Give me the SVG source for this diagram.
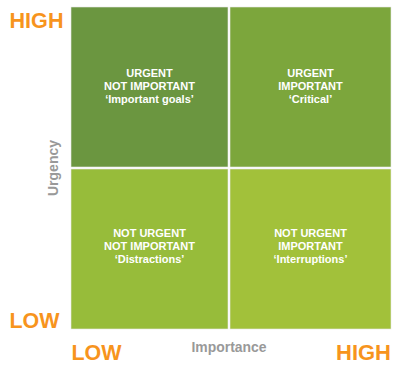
<svg xmlns="http://www.w3.org/2000/svg" width="400" height="369" viewBox="0 0 400 369">
<style>
.axis{font-family:"Liberation Sans",Arial,sans-serif;font-weight:bold;fill:#f7941d;font-size:22px}
.lbl{font-family:"Liberation Sans",Arial,sans-serif;font-weight:bold;fill:#999999;font-size:14px}
.q{font-family:"Liberation Sans",Arial,sans-serif;font-weight:bold;fill:#ffffff;font-size:11px;text-anchor:middle}
.cell{stroke:#e6e6e6;stroke-width:0.6}
</style>
<rect width="400" height="369" fill="#ffffff"/>
<g id="q-urgent-not-important">
<rect class="cell" x="71" y="7" width="157" height="160" fill="#6b9640"/>
<text class="q" x="149.5" y="77">URGENT</text>
<text class="q" x="149.5" y="90">NOT IMPORTANT</text>
<text class="q" x="149.5" y="103">‘Important goals’</text>
</g>
<g id="q-urgent-important">
<rect class="cell" x="230" y="7" width="161" height="160" fill="#7ca63c"/>
<text class="q" x="310.5" y="77">URGENT</text>
<text class="q" x="310.5" y="90">IMPORTANT</text>
<text class="q" x="310.5" y="103">‘Critical’</text>
</g>
<g id="q-not-urgent-not-important">
<rect class="cell" x="71" y="169" width="157" height="160" fill="#97bc3a"/>
<text class="q" x="149.5" y="237">NOT URGENT</text>
<text class="q" x="149.5" y="250">NOT IMPORTANT</text>
<text class="q" x="149.5" y="263">‘Distractions’</text>
</g>
<g id="q-not-urgent-important">
<rect class="cell" x="230" y="169" width="161" height="160" fill="#a2c13a"/>
<text class="q" x="310.5" y="237">NOT URGENT</text>
<text class="q" x="310.5" y="250">IMPORTANT</text>
<text class="q" x="310.5" y="263">‘Interruptions’</text>
</g>
<g id="axes">
<text class="axis" x="9.5" y="28" textLength="54" lengthAdjust="spacingAndGlyphs">HIGH</text>
<text class="axis" x="9.5" y="328" textLength="50" lengthAdjust="spacingAndGlyphs">LOW</text>
<text class="axis" x="71.5" y="360" textLength="50" lengthAdjust="spacingAndGlyphs">LOW</text>
<text class="axis" x="336" y="360" textLength="55" lengthAdjust="spacingAndGlyphs">HIGH</text>
<text class="lbl" x="191.5" y="352" textLength="75" lengthAdjust="spacingAndGlyphs">Importance</text>
<text class="lbl" transform="translate(58,196) rotate(-90)" textLength="56" lengthAdjust="spacingAndGlyphs">Urgency</text>
</g>
</svg>
